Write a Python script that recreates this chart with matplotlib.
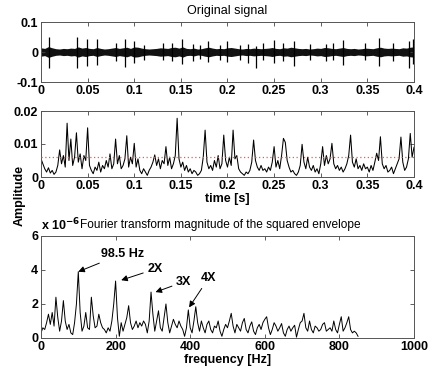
import numpy as np
import matplotlib
matplotlib.use('Agg')
from matplotlib import pyplot as plt
from matplotlib.ticker import FormatStrFormatter

plt.rcParams['font.family'] = ['Liberation Sans', 'DejaVu Sans']
plt.rcParams['font.size'] = 9

# --- original signal: band half-width (x1e-3, every 4 ms) and impact spikes
band_t = np.arange(0, 0.4001, 0.004)
band_hw = np.array([
    14, 12, 18, 14, 11, 10, 12, 11, 13, 12, 17, 13, 15, 12, 11, 15, 12, 10, 11, 13,
    15, 12, 14, 16, 12, 17, 16, 13, 11, 10, 11, 12, 14, 13, 12, 15, 16, 13, 17, 12,
    11, 13, 10, 11, 14, 16, 13, 11, 12, 11, 14, 15, 13, 11, 10, 12, 11, 13, 12, 11,
    12, 13, 15, 12, 11, 14, 13, 16, 14, 12, 11, 12, 10, 11, 13, 12, 15, 14, 12, 11,
    13, 15, 12, 11, 12, 10, 11, 13, 12, 11, 14, 16, 13, 12, 13, 12, 11, 14, 13, 16,
    17]) * 1e-3
spike_t = [0.009, 0.039, 0.049, 0.060, 0.080, 0.090, 0.100, 0.110, 0.131, 0.140,
           0.151, 0.163, 0.170, 0.179, 0.192, 0.200, 0.213, 0.222, 0.231, 0.238,
           0.250, 0.259, 0.271, 0.288, 0.306, 0.313, 0.324, 0.347, 0.3625, 0.377,
           0.395, 0.399]
spike_hi = np.array([49, 50, 43, 42, 29, 42, 38, 25, 30, 30, 42, 28, 22, 36, 25, 36,
                     25, 28, 20, 30, 41, 30, 36, 28, 28, 30, 39, 30, 47, 30, 36, 43]) * 1e-3
spike_lo = np.array([-54, -54, -45, -43, -30, -51, -37, -25, -28, -30, -40, -30, -22,
                     -32, -25, -33, -25, -37, -53, -28, -38, -30, -48, -25, -30, -28,
                     -42, -25, -48, -30, -53, -40]) * 1e-3

# --- envelope (x1e-3, every 2 ms)
env_t = np.arange(0, 0.4001, 0.002)
env = np.array([
    5.5, 4.0, 2.5, 1.5, 2.8, 1.2, 2.0, 0.8, 1.5, 3.5, 8.2, 4.0, 6.5, 3.0, 16.3, 5.0, 11.5, 3.5, 6.0, 13.4,
    4.5, 7.0, 2.5, 6.5, 5.0, 14.9, 3.5, 2.0, 1.0, 3.0, 2.0, 4.5, 1.5, 3.5, 2.5, 5.0, 3.0, 7.0, 2.5, 4.0,
    11.5, 4.0, 6.5, 2.5, 3.5, 5.5, 12.5, 3.0, 6.0, 4.0, 10.2, 3.0, 5.5, 2.0, 1.0, 2.5, 1.5, 0.5, 2.0, 3.0,
    4.5, 6.7, 3.5, 5.5, 2.5, 5.0, 4.0, 9.2, 3.5, 6.0, 2.5, 4.0, 6.5, 17.8, 5.5, 3.0, 4.5, 2.0, 3.5, 1.5,
    2.5, 1.0, 2.0, 1.5, 0.5, 1.0, 2.0, 6.0, 14.2, 4.5, 2.5, 3.5, 2.0, 5.0, 3.0, 6.5, 2.5, 4.0, 12.7, 5.0,
    3.0, 6.0, 3.5, 14.2, 5.5, 6.5, 2.5, 1.5, 1.0, 0.5, 1.5, 1.0, 2.0, 4.5, 11.2, 5.0, 3.0, 2.0, 3.5, 2.0,
    2.5, 1.5, 3.0, 2.0, 4.5, 9.2, 3.0, 5.0, 2.5, 6.5, 11.7, 10.5, 5.0, 3.0, 1.5, 2.0, 1.0, 0.5, 1.5, 3.5,
    9.9, 4.5, 2.5, 6.0, 3.0, 2.0, 3.5, 1.5, 2.5, 1.0, 4.0, 9.2, 3.5, 6.5, 4.0, 5.5, 10.2, 4.0, 2.5, 3.5,
    2.0, 3.0, 1.5, 2.5, 4.0, 6.5, 12.7, 4.5, 3.0, 5.5, 2.5, 3.5, 2.0, 4.0, 2.5, 3.0, 1.5, 3.5, 2.0, 4.5,
    7.2, 5.0, 12.2, 4.0, 2.5, 3.5, 1.5, 2.0, 3.0, 1.0, 2.5, 4.0, 5.5, 12.1, 4.5, 2.0, 3.0, 5.5, 13.2, 6.0,
    9.0]) * 1e-3
threshold = 0.006

# --- spectrum of squared envelope (x1e-6, every 5 Hz)
freq = np.arange(0, 851, 5)
spec = np.array([
    0.3, 0.6, 0.5, 0.9, 1.4, 0.8, 1.5, 0.7, 2.4, 1.2, 0.4, 1.0, 2.2, 1.0, 0.5, 0.8, 0.3, 0.2, 0.9, 2.0,
    3.9, 1.5, 0.4, 0.7, 1.5, 0.6, 0.5, 2.4, 1.3, 0.6, 0.7, 1.4, 0.9, 0.6, 0.5, 0.3, 0.6, 0.4, 1.0, 2.0,
    3.35, 1.2, 0.1, 0.9, 0.4, 0.8, 1.2, 1.9, 0.9, 0.5, 0.7, 1.0, 0.6, 0.9, 0.7, 1.0, 0.8, 0.3, 1.0, 2.7,
    1.4, 0.4, 1.0, 1.6, 0.6, 0.4, 1.2, 2.0, 0.9, 0.3, 0.7, 1.1, 0.8, 0.6, 1.0, 0.7, 0.5, 0.1, 0.6, 1.65,
    0.6, 0.3, 1.0, 1.84, 0.9, 0.4, 1.0, 0.6, 0.3, 0.8, 1.0, 0.5, 0.3, 0.7, 0.6, 1.0, 0.4, 0.1, 0.5, 0.8,
    0.6, 1.0, 1.45, 0.7, 0.3, 0.8, 0.6, 0.4, 0.9, 1.15, 0.5, 0.3, 0.7, 0.95, 0.4, 0.2, 0.6, 0.8, 0.5, 0.9,
    1.1, 1.25, 0.6, 0.2, 0.5, 0.9, 0.7, 0.4, 0.6, 0.85, 0.3, 0.1, 0.5, 0.7, 0.4, 0.6, 0.75, 0.05, 0.5, 0.9,
    1.0, 1.45, 0.6, 0.4, 1.0, 0.5, 0.3, 0.7, 0.6, 0.4, 0.5, 0.8, 0.9, 0.4, 0.5, 0.6, 0.4, 1.0, 0.5, 0.3,
    0.8, 1.25, 0.4, 0.6, 0.9, 1.25, 0.5, 0.3, 0.4, 0.3, 0.1])

labels = ['98.5 Hz', '2X', '3X', '4X']
label_xy = [(100, 3.9), (215, 3.4), (307, 2.7), (397, 1.8)]
label_text_xy = [(160, 4.95), (285, 4.05), (362, 3.3), (428, 3.5)]


def style(ax):
    ax.tick_params(direction='in', top=True, right=True, length=3, width=0.6,
                   colors='#444444', labelcolor='k', labelsize=9, pad=2)
    for lab in ax.get_xticklabels() + ax.get_yticklabels():
        lab.set_fontweight('bold')
    for s in ax.spines.values():
        s.set_color('#555555')
        s.set_linewidth(0.7)


fig = plt.figure(figsize=(4.32, 3.75), dpi=100)

ax1 = fig.add_axes([0.0949, 0.7813, 0.8634, 0.16])
ax1.fill_between(band_t, -band_hw, band_hw, color='#111111', lw=0)
ax1.vlines(spike_t, spike_lo, spike_hi, color='k', lw=0.9)
ax1.set_xlim(0, 0.4)
ax1.set_ylim(-0.1, 0.1)
ax1.set_xticks(np.arange(0, 0.401, 0.05))
ax1.set_yticks([-0.1, 0, 0.1])
ax1.xaxis.set_major_formatter(FormatStrFormatter('%g'))
ax1.yaxis.set_major_formatter(FormatStrFormatter('%g'))
ax1.set_title('Original signal', fontsize=9, pad=6)
style(ax1)

ax2 = fig.add_axes([0.0949, 0.528, 0.8634, 0.176])
ax2.plot(env_t, env, color='k', lw=0.75)
ax2.axhline(threshold, color='#ff5050', ls=(0, (1, 2)), lw=0.9, zorder=3)
ax2.set_xlim(0, 0.4)
ax2.set_ylim(0, 0.02)
ax2.set_xticks(np.arange(0, 0.401, 0.05))
ax2.set_yticks([0, 0.01, 0.02])
ax2.xaxis.set_major_formatter(FormatStrFormatter('%g'))
ax2.yaxis.set_major_formatter(FormatStrFormatter('%g'))
ax2.set_xlabel('time [s]', fontsize=9, fontweight='bold', labelpad=1)
style(ax2)

ax3 = fig.add_axes([0.0949, 0.0987, 0.8634, 0.272])
ax3.plot(freq, spec, color='k', lw=0.7)
ax3.set_xlim(0, 1000)
ax3.set_ylim(0, 6)
ax3.set_xticks(np.arange(0, 1001, 200))
ax3.set_yticks([0, 2, 4, 6])
ax3.set_xlabel('frequency [Hz]', fontsize=9, fontweight='bold', labelpad=1)
ax3.text(39 / 373, 1.105, 'Fourier transform magnitude of the squared envelope',
         transform=ax3.transAxes, fontsize=8.6, ha='left', va='center')
ax3.text(0.0, 1.03, r'x 10$^{\mathbf{-6}}$', transform=ax3.transAxes,
         fontsize=9, fontweight='bold', ha='left', va='bottom')
for lab, xy, txy in zip(labels, label_xy, label_text_xy):
    ax3.annotate(lab, xy=xy, xytext=txy, fontsize=9, fontweight='bold',
                 ha='left', va='center',
                 arrowprops=dict(arrowstyle='-|>', color='k', lw=0.7,
                                 mutation_scale=9, shrinkA=1, shrinkB=0))
style(ax3)

fig.text(19.5 / 432, 1 - 195 / 375, 'Amplitude', rotation=90, fontsize=9,
         fontweight='bold', ha='center', va='center')

fig.savefig('out.png', dpi=100)
